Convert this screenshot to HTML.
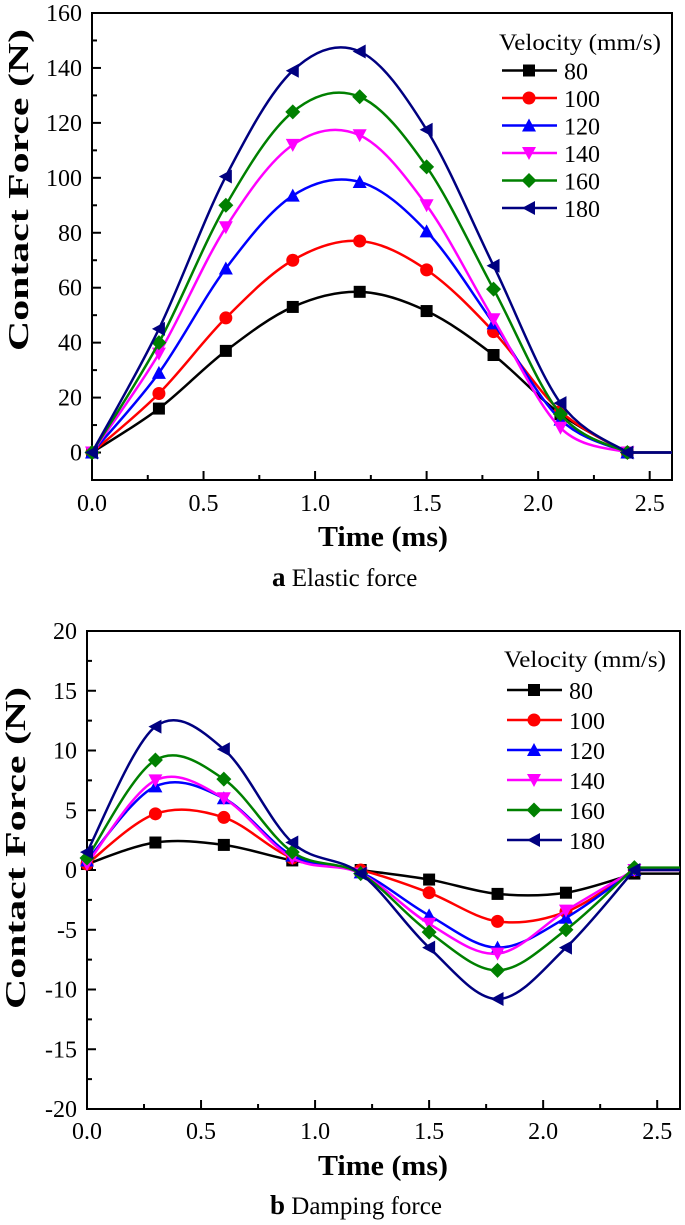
<!DOCTYPE html>
<html><head><meta charset="utf-8"><style>
body{margin:0;background:#fff}
svg{display:block;font-family:"Liberation Serif",serif}
</style></head><body>
<svg id="s" width="685" height="1225" viewBox="0 0 685 1225" xmlns="http://www.w3.org/2000/svg"></svg>
<script>
const times=[0,0.3,0.6,0.9,1.2,1.5,1.8,2.1,2.4];
const seriesNames=["80","100","120","140","160","180"];
const colors=["#000000","#ff0000","#0000ff","#ff00ff","#008000","#000080"];
const markers=["square","circle","up","down","diamond","left"];
const elastic80=[0,16,37,53,58.5,51.5,35.5,14,0];
const elastic100=[0,21.5,49,70,77,66.5,44,15,0];
const elastic120=[0,29,67,93.5,98.5,80.5,47,12,0];
const elastic140=[0,36,82,112,115.5,90,48.5,9,0];
const elastic160=[0,40,90,124,129.5,104,59.5,14,0];
const elastic180=[0,45,100.5,139,146,117.5,68,18,0];
const damping80=[0.5,2.3,2.1,0.8,0,-0.8,-2.0,-1.9,-0.3];
const damping100=[0.5,4.7,4.4,1.0,0,-1.9,-4.3,-3.5,0];
const damping120=[0.8,7.0,6.0,1.2,-0.2,-3.8,-6.5,-4.0,0];
const damping140=[0.5,7.5,6.0,1.0,-0.3,-4.5,-7.0,-3.4,0];
const damping160=[1,9.2,7.6,1.5,-0.3,-5.2,-8.4,-5.0,0.2];
const damping180=[1.5,12,10.1,2.3,-0.3,-6.5,-10.8,-6.5,0];
const xTicks=["0.0","0.5","1.0","1.5","2.0","2.5"];
const yTicksA=["0","20","40","60","80","100","120","140","160"];
const yTicksB=["-20","-15","-10","-5","0","5","10","15","20"];

const NS="http://www.w3.org/2000/svg";
const S=document.getElementById('s');
function el(t,a,p){const e=document.createElementNS(NS,t);for(const k in a)e.setAttribute(k,a[k]);(p||S).appendChild(e);return e;}

function chart(cfg){
  const g=el('g',{});
  
  
  const X=v=>cfg.x0+(v-0)/2.6*(cfg.x1-cfg.x0);
  const Y=v=>cfg.yb-(v-cfg.ymin)/(cfg.ymax-cfg.ymin)*(cfg.yb-cfg.yt);
  const fr=el('rect',{x:cfg.x0,y:cfg.yt,width:cfg.x1-cfg.x0,height:cfg.yb-cfg.yt,fill:'none',stroke:'#000','stroke-width':2},g);
  
  
  for(let i=0;i<=10;i++){const v=i*0.25;const x=X(v);const len=i%2?5:9;
    el('line',{x1:x,x2:x,y1:cfg.yb,y2:cfg.yb-len,stroke:'#000','stroke-width':2},g);}
  xTicks.forEach(t=>{const tx=el('text',{x:X(parseFloat(t)),y:cfg.xlabY,'font-size':24,'text-anchor':'middle'},g);tx.textContent=t;
    
    });
  const ys=cfg.yticks.map(Number);const step=ys[1]-ys[0];
  for(let v=cfg.ymin;v<=cfg.ymax+1e-9;v+=step/2){const y=Y(v);const major=Math.abs(((v-ys[0])/step)-Math.round((v-ys[0])/step))<1e-6;
    el('line',{x1:cfg.x0,x2:cfg.x0+(major?9:5),y1:y,y2:y,stroke:'#000','stroke-width':2},g);}
  cfg.yticks.forEach(t=>{const tx=el('text',{x:cfg.x0-10,y:Y(Number(t))+8,'font-size':24,'text-anchor':'end'},g);tx.textContent=t;
    
    });
  const yt=el('text',{x:0,y:0,'font-size':29,'font-weight':'bold','text-anchor':'middle',textLength:cfg.ytitleLen,lengthAdjust:'spacingAndGlyphs',transform:`translate(${cfg.ytitleX},${cfg.ytitleC}) rotate(-90)`},g);
  yt.textContent='Contact Force (N)';
  
  
  const xt=el('text',{x:cfg.xtitleC,y:cfg.xtitleY,'font-size':29,'font-weight':'bold','text-anchor':'middle',textLength:130,lengthAdjust:'spacingAndGlyphs'},g);
  xt.textContent='Time (ms)';
  
  
  cfg.data.forEach((d,si)=>{
    const pts=times.map((t,i)=>[X(t),Y(d[i])]);
    let p=`M${pts[0][0]},${pts[0][1]}`;
    for(let i=0;i<pts.length-1;i++){const p0=pts[Math.max(0,i-1)],p1=pts[i],p2=pts[i+1],p3=pts[Math.min(pts.length-1,i+2)];
      p+=` C${p1[0]+(p2[0]-p0[0])/6},${p1[1]+(p2[1]-p0[1])/6} ${p2[0]-(p3[0]-p1[0])/6},${p2[1]-(p3[1]-p1[1])/6} ${p2[0]},${p2[1]}`;}
    p+=` L${X(2.6)},${Y(d[d.length-1])}`;
    const path=el('path',{d:p,fill:'none',stroke:colors[si],'stroke-width':2.5},g);
    
    
    pts.forEach(q=>{const m=marker(g,markers[si],q[0],q[1],colors[si]);
      
      });
  });
  const lt=el('text',{x:cfg.lx-3,y:cfg.ly,'font-size':23,textLength:162,lengthAdjust:'spacingAndGlyphs'},g);lt.textContent='Velocity (mm/s)';
  
  
  seriesNames.forEach((n,i)=>{const y=cfg.ly+cfg.lsp*(i+1)-7;
    const lg=el('g',{},g);
    
    
    el('line',{x1:cfg.lx,x2:cfg.lx+55,y1:y,y2:y,stroke:colors[i],'stroke-width':2.5},lg);
    marker(lg,markers[i],cfg.lx+27,y,colors[i]);
    const t=el('text',{x:cfg.lx+62,y:y+9,'font-size':24},lg);t.textContent=n;});
  const cap=el('text',{x:cfg.capX,y:cfg.capY,'font-size':25},g);
  cap.innerHTML=`<tspan font-weight="bold" font-size="27">${cfg.capL}</tspan>  ${cfg.capT}`;
  
  
}
function marker(g,type,x,y,c){const r=6;
  if(type==='square')return el('rect',{x:x-r,y:y-r,width:2*r,height:2*r,fill:c},g);
  if(type==='circle')return el('circle',{cx:x,cy:y,r:r+0.5,fill:c},g);
  let pts;
  if(type==='up')pts=[[x,y-r-1],[x+r+1,y+r],[x-r-1,y+r]];
  if(type==='down')pts=[[x,y+r+1],[x+r+1,y-r],[x-r-1,y-r]];
  if(type==='diamond')pts=[[x,y-r-1.5],[x+r+1.5,y],[x,y+r+1.5],[x-r-1.5,y]];
  if(type==='left')pts=[[x-r-1,y],[x+r,y-r-1],[x+r,y+r+1]];
  return el('polygon',{points:pts.map(p=>p.join(',')).join(' '),fill:c},g);
}
chart({name:'elastic-force-chart',x0:92,x1:672,yt:13,yb:480,ymin:-10,ymax:160,yticks:yTicksA,
  data:[elastic80,elastic100,elastic120,elastic140,elastic160,elastic180],xlabY:511,ytitleX:28,ytitleC:190,ytitleLen:322,xtitleC:383,xtitleY:546,
  lx:502,ly:50,lsp:27.5,capX:272,capY:586,capL:'a',capT:'Elastic force'});
chart({name:'damping-force-chart',x0:87,x1:680,yt:631,yb:1109,ymin:-20,ymax:20,yticks:yTicksB,
  data:[damping80,damping100,damping120,damping140,damping160,damping180],xlabY:1139,ytitleX:25,ytitleC:848,ytitleLen:322,xtitleC:383,xtitleY:1175,
  lx:507,ly:667,lsp:30,capX:270,capY:1214,capL:'b',capT:'Damping force'});
</script>
</body></html>
